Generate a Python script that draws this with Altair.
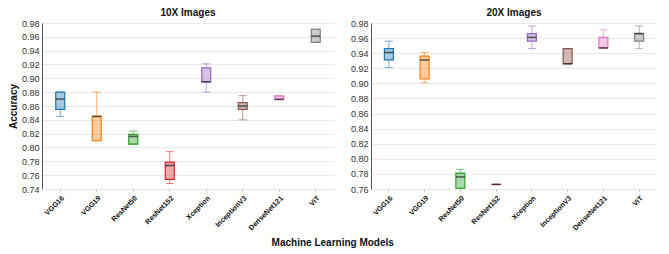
import altair as alt
import pandas as pd

models = ["VGG16", "VGG19", "ResNet50", "ResNet152", "Xception", "InceptionV3", "DenseNet121", "ViT"]
colors = ["#1f77b4", "#ff7f0e", "#2ca02c", "#d62728", "#9467bd", "#8c564b", "#e377c2", "#7f7f7f"]

# 10X Images
low_10 = [0.845, 0.810, 0.805, 0.748, 0.880, 0.840, 0.8695, 0.952]
q1_10 = [0.855, 0.810, 0.805, 0.754, 0.895, 0.855, 0.8695, 0.952]
med_10 = [0.870, 0.845, 0.816, 0.774, 0.895, 0.860, 0.8695, 0.961]
q3_10 = [0.880, 0.845, 0.819, 0.779, 0.915, 0.865, 0.8745, 0.971]
high_10 = [0.880, 0.880, 0.824, 0.794, 0.921, 0.875, 0.8745, 0.971]

# 20X Images
low_20 = [0.921, 0.901, 0.761, 0.766, 0.946, 0.926, 0.947, 0.946]
q1_20 = [0.931, 0.906, 0.761, 0.766, 0.956, 0.926, 0.947, 0.956]
med_20 = [0.941, 0.931, 0.776, 0.766, 0.961, 0.926, 0.947, 0.966]
q3_20 = [0.946, 0.936, 0.781, 0.766, 0.966, 0.946, 0.961, 0.966]
high_20 = [0.956, 0.941, 0.786, 0.766, 0.976, 0.946, 0.971, 0.976]

ticks_10 = [0.74, 0.76, 0.78, 0.80, 0.82, 0.84, 0.86, 0.88, 0.90, 0.92, 0.94, 0.96, 0.98]
ticks_20 = [0.76, 0.78, 0.80, 0.82, 0.84, 0.86, 0.88, 0.90, 0.92, 0.94, 0.96, 0.98]

FONT = "Liberation Sans"


def panel(title, low, q1, med, q3, high, domain, ticks, ytitle, width):
    df = pd.DataFrame({"model": models, "low": low, "q1": q1, "med": med, "q3": q3, "high": high})
    x = alt.X("model:N", sort=models, title=None,
              scale=alt.Scale(paddingInner=0, paddingOuter=0),
              axis=alt.Axis(labelAngle=-45, labelFontWeight="bold", labelFontSize=7.2,
                            labelColor="#111", domain=False, tickSize=2, tickColor="#bbb",
                            labelPadding=3, grid=False))
    yscale = alt.Scale(domain=domain, nice=False, zero=False)
    yaxis = alt.Axis(values=ticks, format=".2f", grid=True, gridColor="#e9e9e9",
                     domainColor="#555", ticks=False, labelFontSize=9, labelColor="#333",
                     labelPadding=3, labelOverlap=False, title=ytitle, titleFontSize=10,
                     titleFontWeight="bold", titlePadding=3, titleColor="#111")

    def Y(f):
        return alt.Y(f + ":Q", scale=yscale, axis=yaxis, title=ytitle)

    col = alt.Color("model:N", scale=alt.Scale(domain=models, range=colors), legend=None)
    base = alt.Chart(df).encode(x=x)
    w1 = base.mark_rule(strokeWidth=1, opacity=0.6).encode(y=Y("low"), y2="q1:Q", color=col)
    w2 = base.mark_rule(strokeWidth=1, opacity=0.6).encode(y=Y("q3"), y2="high:Q", color=col)
    c1 = base.mark_tick(size=8, thickness=1, opacity=0.6).encode(y=Y("low"), color=col)
    c2 = base.mark_tick(size=8, thickness=1, opacity=0.6).encode(y=Y("high"), color=col)
    box = base.mark_bar(size=9, fillOpacity=0.4, strokeWidth=1.2).encode(
        y=Y("q1"), y2="q3:Q", color=col, stroke=col)
    medt = base.mark_tick(size=9, thickness=1.6, color="#222").encode(y=Y("med"))
    return alt.layer(w1, w2, c1, c2, box, medt).properties(
        width=width, height=166,
        title=alt.TitleParams(title, fontSize=10, fontWeight="bold", font=FONT, offset=1, color="#111"))


left = panel("10X Images", low_10, q1_10, med_10, q3_10, high_10, [0.74, 0.98], ticks_10, "Accuracy", 292)
right = panel("20X Images", low_20, q1_20, med_20, q3_20, high_20, [0.76, 0.98], ticks_20, "", 286)

chart = alt.hconcat(left, right, spacing=16).properties(
    title=alt.TitleParams("Machine Learning Models", orient="bottom", anchor="middle",
                          fontSize=10, fontWeight="bold", font=FONT, offset=7, color="#111"),
    padding=0,
).configure_view(stroke=None).configure_axis(labelFont=FONT, titleFont=FONT)

chart.save("out.html", embed_options={"renderer": "svg", "actions": False})
